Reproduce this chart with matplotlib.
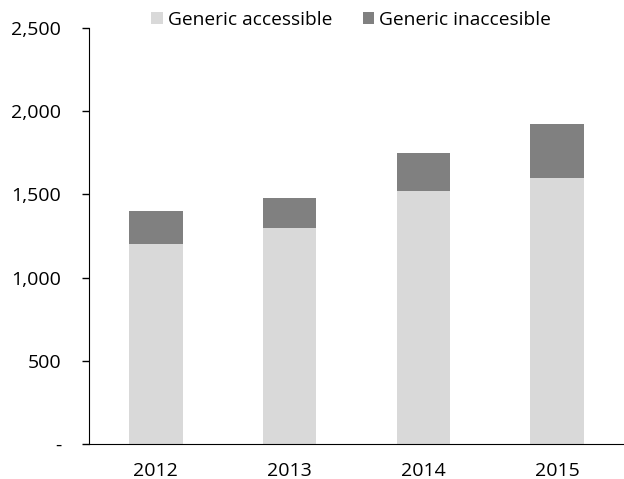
import matplotlib.pyplot as plt
from matplotlib.ticker import FuncFormatter

years = ['2012', '2013', '2014', '2015']
accessible = [1200, 1300, 1520, 1600]
inaccessible = [200, 180, 230, 325]

plt.rcParams['font.family'] = ['Open Sans', 'DejaVu Sans']

fig = plt.figure(figsize=(6.24, 4.79), dpi=100)
ax = fig.add_axes([0.1426, 0.073, 0.8574, 0.8685])

x = range(len(years))
ax.bar(x, accessible, width=0.4, color='#d9d9d9', label='Generic accessible')
ax.bar(x, inaccessible, width=0.4, bottom=accessible, color='#808080',
       label='Generic inaccesible')

ax.set_xlim(-0.5, 3.5)
ax.set_ylim(0, 2500)
ax.set_yticks(range(0, 2501, 500))
ax.yaxis.set_major_formatter(FuncFormatter(lambda v, p: '-' if v == 0 else f'{int(v):,}'))
ax.set_xticks(list(x))
ax.set_xticklabels(years)

for side in ['top', 'right']:
    ax.spines[side].set_visible(False)
ax.spines['left'].set_color('black')
ax.spines['bottom'].set_color('black')
ax.tick_params(axis='y', direction='out', length=5, width=1, labelsize=14, pad=15, colors='black')
ax.tick_params(axis='x', length=0, labelsize=14, pad=13)

ax.legend(loc='center', bbox_to_anchor=(0.49, 1.02), ncol=2, frameon=False,
          fontsize=13.8, handlelength=0.6, handleheight=0.6, handletextpad=0.25,
          columnspacing=1.6, borderaxespad=0)

fig.savefig('out.png', dpi=100)
